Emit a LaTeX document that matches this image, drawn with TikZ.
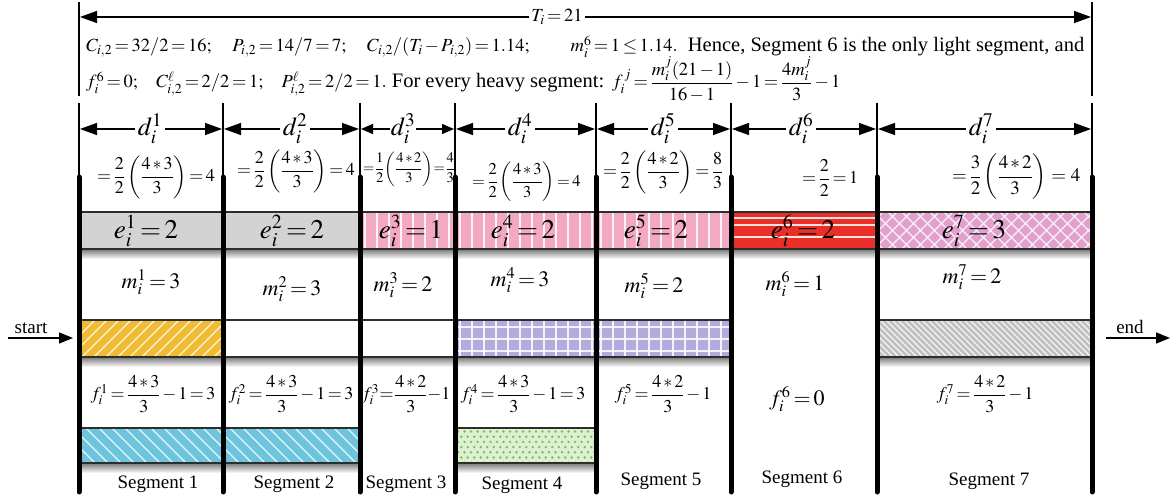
\documentclass[tikz,border=0pt]{standalone}
\usepackage{amsmath}
\usepackage{mathptmx}
\usepackage{fontspec}
\setmainfont{Liberation Serif}
\usetikzlibrary{arrows.meta}
\definecolor{boxgray}{RGB}{211,211,211}
\definecolor{boxpink}{RGB}{243,168,196}
\definecolor{boxred}{RGB}{232,48,40}
\definecolor{boxmauve}{RGB}{226,160,206}
\definecolor{boxorange}{RGB}{241,188,52}
\definecolor{boxlav}{RGB}{180,170,220}
\definecolor{boxhatch}{RGB}{192,192,192}
\definecolor{boxblue}{RGB}{108,197,220}
\definecolor{boxgreen}{RGB}{222,240,210}
\definecolor{dotgreen}{RGB}{125,188,88}
\definecolor{edgegray}{RGB}{45,45,45}
\newcommand{\rbox}[6]{%
  \def\bxa{#1}\def\bya{#2}\def\bxb{#3}\def\byb{#4}%
  \shade[top color=black!70, bottom color=white, opacity=0.75] (#1,#4) rectangle (#3,#4+10);
  \fill[#5] (#1,#2) rectangle (#3,#4);
  \begin{scope}
    \clip (#1,#2) rectangle (#3,#4);
    #6
  \end{scope}
  \draw[boxline] (#1,#2) rectangle (#3,#4);
}
\newcommand{\pvert}[1]{\foreach \kk in {0,...,30}{\draw[pline] (\bxa+5+\kk*#1,\bya) -- ++(0,60);}}
\newcommand{\pfwd}[1]{\foreach \kk in {0,...,60}{\draw[pline] (\bxa-45+\kk*#1,\byb) -- ++(45,-45);}}
\newcommand{\pback}[1]{\foreach \kk in {0,...,60}{\draw[pline] (\bxa-45+\kk*#1,\bya) -- ++(45,45);}}
\newcommand{\phor}[1]{\foreach \yy in {#1}{\draw[pline] (\bxa,\bya+\yy) -- (\bxb,\bya+\yy);}}
\newcommand{\pdots}{%
  \foreach \rowa in {0,2,4,6}{\foreach \cola in {0,...,22}{\fill[dotgreen] (\bxa+3+\cola*6.5,\bya+3.5+\rowa*5.2) circle (1.35);}}%
  \foreach \rowb in {1,3,5}{\foreach \colb in {0,...,22}{\fill[dotgreen] (\bxa+6.25+\colb*6.5,\bya+3.5+\rowb*5.2) circle (1.35);}}%
}
\newcommand{\hm}[1]{{\fontsize{18.5}{22}\selectfont$#1$}}
\tikzset{
  thickseg/.style={line width=5pt, line cap=round},
  thinseg/.style={line width=1.2pt},
  boxline/.style={draw=edgegray, line width=1.5pt},
  pline/.style={white, line width=1.3pt, opacity=0.85},
  dimarr/.style={line width=1.4pt, {Triangle[length=17pt,width=12pt]}-{Triangle[length=17pt,width=12pt]}},
  smallarr/.style={line width=1.4pt, {Triangle[length=12pt,width=10pt]}-{Triangle[length=12pt,width=10pt]}},
  flowarr/.style={line width=1.4pt, -{Triangle[length=14pt,width=11pt]}},
  hdr/.style={font=\fontsize{20.5}{24}\selectfont, inner sep=0pt},
  dlab/.style={font=\fontsize{26}{29}\selectfont, fill=white, inner xsep=3pt, inner ysep=0pt},
  dform/.style={font=\fontsize{18}{20}\selectfont, inner sep=0pt},
  elab/.style={font=\fontsize{27}{29}\selectfont, inner sep=0pt},
  mlab/.style={font=\fontsize{22}{24}\selectfont, inner sep=0pt},
  flab/.style={font=\fontsize{18}{20}\selectfont, inner sep=0pt},
  seglab/.style={font=\fontsize{19}{21}\selectfont, inner sep=0pt},
}
\begin{document}
\thickmuskip=2.5mu plus 1mu
\medmuskip=2mu plus 1mu
\begin{tikzpicture}[x=1pt,y=-1pt]
\useasboundingbox (0,0) rectangle (1175,502);
\fill[white] (0,0) rectangle (1175,502);
% ---------- header ----------
\draw[thinseg] (79,2) coordinate (hl1) -- (79,96) coordinate (hl2);
\draw[thinseg] (1092,2) coordinate (hr1) -- (1092,96) coordinate (hr2);
\coordinate (TL) at (80,17);
\coordinate (TR) at (1091,17);
\draw[dimarr] (TL) -- (TR);
\node[hdr, fill=white, inner xsep=2pt] (Tlab) at (557,17) {\hm{T_i=21}};
\node[hdr, anchor=base west] (h1) at (86,52) {\makebox[998pt][s]{\hm{C_{i,2}=32/2=16;}\hfil\hm{P_{i,2}=14/7=7;}\hfil\hm{C_{i,2}/(T_i-P_{i,2})=1.14;}\hfil\hfil\hm{m_i^6=1\le 1.14.}\ \ Hence, Segment 6 is the only light segment, and}};
\node[hdr, anchor=base west] (h2) at (86,88) {\makebox[518pt][s]{\hm{f_i^6=0;}\hfil\hm{C^{\ell}_{i,2}=2/2=1;}\hfil\hm{P^{\ell}_{i,2}=2/2=1.}\ For every heavy segment:}};
\node[hdr, anchor=base west] (h3) at (612,88) {\hm{f_i^{\,j}=\dfrac{m_i^j(21-1)}{16-1}-1=\dfrac{4m_i^j}{3}-1}};
% ---------- thin boundary ticks ----------
\foreach \x/\n in {79/0,223/1,360/2,455/3,596/4,731/5,877/6,1092/7}{
  \draw[thinseg] (\x,103) coordinate (ta\n) -- (\x,178) coordinate (tb\n);
}
% ---------- d arrows ----------
\foreach \xa/\xb/\k in {79/223/1,223/360/2,360/455/3,455/596/4,596/731/5,731/877/6,877/1092/7}{
  \coordinate (dl\k) at (\xa+1,129);
  \coordinate (dr\k) at (\xb-1,129);
}
\draw[dimarr] (dl1) -- (dr1);
\draw[dimarr] (dl2) -- (dr2);
\draw[smallarr] (dl3) -- (dr3);
\draw[dimarr] (dl4) -- (dr4);
\draw[dimarr] (dl5) -- (dr5);
\draw[dimarr] (dl6) -- (dr6);
\draw[dimarr] (dl7) -- (dr7);
\node[dlab, anchor=base] (d1) at (150,136) {$d_i^1$};
\node[dlab, anchor=base] (d2) at (295,136) {$d_i^2$};
\node[dlab, anchor=base, inner xsep=1pt] (d3) at (403,136) {$d_i^3$};
\node[dlab, anchor=base] (d4) at (520,136) {$d_i^4$};
\node[dlab, anchor=base] (d5) at (663,136) {$d_i^5$};
\node[dlab, anchor=base] (d6) at (801,136) {$d_i^6$};
\node[dlab, anchor=base] (d7) at (981,136) {$d_i^7$};
% ---------- d formulas ----------
\node[dform, anchor=west] (df1) at (97,177) {$=\dfrac{2}{2}\left(\dfrac{4*3}{3}\right)=4$};
\node[dform, anchor=west] (df2) at (237,171) {$=\dfrac{2}{2}\left(\dfrac{4*3}{3}\right)=4$};
\node[dform, anchor=west, font=\fontsize{14.5}{16}\selectfont] (df3) at (363,169) {$=\!\dfrac{1}{2}\!\left(\dfrac{4*2}{3}\right)\!=\!\dfrac{4}{3}$};
\node[dform, anchor=west, font=\fontsize{16.5}{18}\selectfont] (df4) at (472,182) {$=\dfrac{2}{2}\left(\dfrac{4*3}{3}\right)=4$};
\node[dform, anchor=west] (df5) at (603,172) {$=\dfrac{2}{2}\left(\dfrac{4*2}{3}\right)=\dfrac{8}{3}$};
\node[dform, anchor=west] (df6) at (802,178) {$=\dfrac{2}{2}=1$};
\node[dform, anchor=west, font=\fontsize{19}{21}\selectfont] (df7) at (952,177) {$=\dfrac{3}{2}\left(\dfrac{4*2}{3}\right)\,=\,4$};
% ---------- e row ----------
\rbox{79}{212}{223}{249}{boxgray}{}
\rbox{223}{212}{360}{249}{boxgray}{}
\rbox{360}{212}{455}{249}{boxpink}{\pvert{12}}
\rbox{455}{212}{596}{249}{boxpink}{\pvert{12}}
\rbox{596}{212}{731}{249}{boxpink}{\pvert{12}}
\rbox{731}{212}{877}{249}{boxred}{\phor{6,13,25}}
\rbox{877}{212}{1092}{249}{boxmauve}{\pfwd{14}\pback{14}}
% ---------- pattern row ----------
\rbox{79}{320}{223}{357}{boxorange}{\pfwd{12}}
\rbox{223}{320}{360}{357}{white}{}
\rbox{360}{320}{455}{357}{white}{}
\rbox{455}{320}{596}{357}{boxlav}{\pvert{12}\phor{7,19,31}}
\rbox{596}{320}{731}{357}{boxlav}{\pvert{12}\phor{7,19,31}}
\rbox{877}{320}{1092}{357}{boxhatch}{\pback{6}}
% ---------- bottom row ----------
\rbox{79}{428}{223}{463}{boxblue}{\pback{13}}
\rbox{223}{428}{360}{463}{boxblue}{\pback{13}}
\rbox{455}{428}{596}{463}{boxgreen}{\pdots}
% ---------- thick boundaries ----------
\foreach \x/\n in {79/0,223/1,360/2,455/3,596/4,731/5,877/6,1092/7}{
  \draw[thickseg] (\x,177) coordinate (ka\n) -- (\x,492) coordinate (kb\n);
}
% ---------- start / end ----------
\node[seglab, anchor=base] (startlab) at (31,334) {start};
\coordinate (sa) at (8,338);
\coordinate (sb) at (73,338);
\draw[flowarr] (sa) -- (sb);
\node[seglab, anchor=base] (endlab) at (1130,334) {end};
\coordinate (ea) at (1106,338);
\coordinate (eb) at (1170,338);
\draw[flowarr] (ea) -- (eb);
% ---------- e labels ----------
\node[elab] (e1) at (146,231) {$e_i^1=2$};
\node[elab] (e2) at (292,231) {$e_i^2=2$};
\node[elab] (e3) at (411,231) {$e_i^3=1$};
\node[elab] (e4) at (523,231) {$e_i^4=2$};
\node[elab] (e5) at (656,231) {$e_i^5=2$};
\node[elab] (e6) at (803,231) {$e_i^6=2$};
\node[elab] (e7) at (974,231) {$e_i^7=3$};
% ---------- m labels ----------
\node[mlab] (m1) at (151,282) {$m_i^1=3$};
\node[mlab] (m2) at (292,289) {$m_i^2=3$};
\node[mlab] (m3) at (403,285) {$m_i^3=2$};
\node[mlab] (m4) at (520,280) {$m_i^4=3$};
\node[mlab] (m5) at (654,286) {$m_i^5=2$};
\node[mlab] (m6) at (795,284) {$m_i^6=1$};
\node[mlab] (m7) at (972,277) {$m_i^7=2$};
% ---------- f labels ----------
\node[flab] (f1) at (153,394) {$f_i^1=\dfrac{4*3}{3}-1=3$};
\node[flab] (f2) at (291,394) {$f_i^2=\dfrac{4*3}{3}-1=3$};
\node[flab] (f3) at (406,394) {$f_i^3\!=\!\dfrac{4*2}{3}\!-\!1$};
\node[flab] (f4) at (523,394) {$f_i^4=\dfrac{4*3}{3}-1=3$};
\node[flab] (f5) at (663,394) {$f_i^5=\dfrac{4*2}{3}-1$};
\node[mlab] (f6) at (797,399) {$f_i^6=0$};
\node[flab] (f7) at (985,394) {$f_i^7=\dfrac{4*2}{3}-1$};
% ---------- segment labels ----------
\node[seglab] (s1) at (158,484) {Segment 1};
\node[seglab] (s2) at (294,484) {Segment 2};
\node[seglab] (s3) at (406,484) {Segment 3};
\node[seglab] (s4) at (522,485) {Segment 4};
\node[seglab] (s5) at (661,481) {Segment 5};
\node[seglab] (s6) at (802,479) {Segment 6};
\node[seglab] (s7) at (989,481) {Segment 7};
\end{tikzpicture}
\end{document}
